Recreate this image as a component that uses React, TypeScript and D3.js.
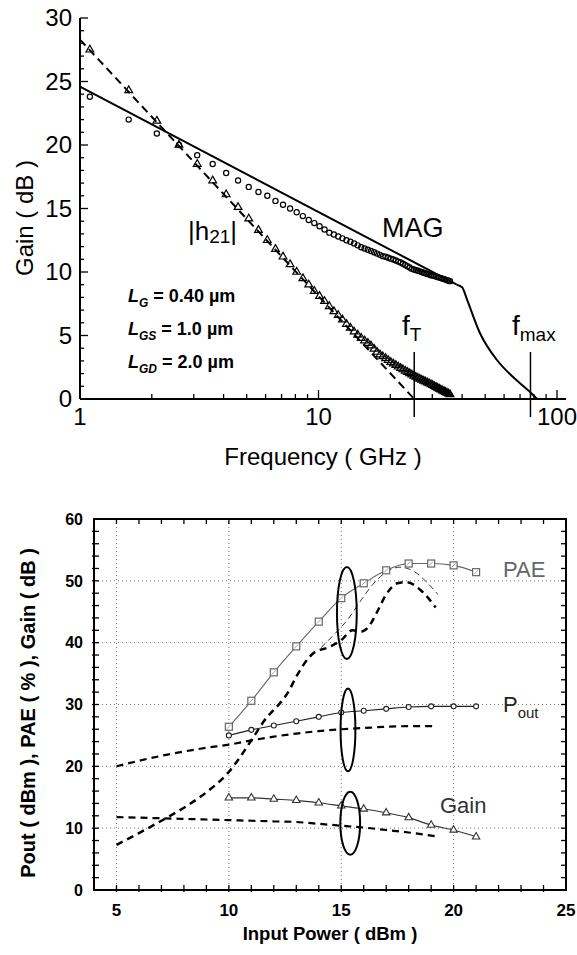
import React from "react";
import * as d3 from "d3";

// ---------- Upper panel: small-signal gain vs frequency ----------
const freqGHz = [
  1.1, 1.6, 2.1, 2.6, 3.1, 3.6, 4.1, 4.6, 5.1, 5.6, 6.1, 6.6, 7.1, 7.6, 8.1, 8.6, 9.1, 9.6,
  10.1, 10.6, 11.1, 11.6, 12.1, 12.6, 13.1, 13.6, 14.1, 14.6, 15.1, 15.6, 16.1, 16.6, 17.1,
  17.6, 18.1, 18.6, 19.1, 19.6, 20.1, 20.6, 21.1, 21.6, 22.1, 22.6, 23.1, 23.6, 24.1, 24.6,
  25.1, 25.6, 26.1, 26.6, 27.1, 27.6, 28.1, 28.6, 29.1, 29.6, 30.1, 30.6, 31.1, 31.6, 32.1,
  32.6, 33.1, 33.6, 34.1, 34.6, 35.1, 35.6,
];
const h21Db = [
  27.5, 24.3, 21.9, 20.0, 18.5, 17.2, 16.1, 15.1, 14.2, 13.3, 12.5, 11.8, 11.2, 10.6, 10.0, 9.5,
  9.0, 8.5, 8.1, 7.7, 7.3, 6.9, 6.6, 6.25, 5.9, 5.6, 5.3, 5.05, 4.8, 4.6, 4.4, 4.2, 3.95, 3.7,
  3.5, 3.35, 3.2, 3.05, 2.9, 2.78, 2.66, 2.54, 2.42, 2.32, 2.22, 2.12, 2.02, 1.92, 1.82, 1.74,
  1.66, 1.58, 1.5, 1.43, 1.36, 1.29, 1.22, 1.15, 1.08, 1.01, 0.94, 0.87, 0.8, 0.73, 0.66, 0.6,
  0.54, 0.48, 0.42, 0.36,
];
const magDb = [
  23.8, 22.0, 20.9, 20.0, 19.2, 18.5, 17.8, 17.2, 16.7, 16.3, 16.0, 15.6, 15.3, 15.0, 14.7, 14.4,
  14.1, 13.85, 13.6, 13.35, 13.1, 12.95, 12.8, 12.65, 12.5, 12.38, 12.25, 12.1, 11.95, 11.85,
  11.75, 11.65, 11.55, 11.45, 11.35, 11.25, 11.2, 11.12, 11.05, 10.98, 10.9, 10.82, 10.75, 10.65,
  10.55, 10.45, 10.35, 10.25, 10.2, 10.15, 10.1, 10.05, 10.0, 9.95, 9.9, 9.85, 9.8, 9.75, 9.72,
  9.68, 9.64, 9.6, 9.56, 9.52, 9.48, 9.44, 9.4, 9.36, 9.32, 9.28,
];
// -20 dB/decade extrapolation of |h21|
const h21FitF = [1, 25.2];
const h21FitDb = [28.3, 0];
// modelled MAG: straight slope, then roll-off to fmax
const magSlopeF = [1, 38];
const magSlopeDb = [24.6, 9.0];
const magRollF = [38, 40, 42, 47.5, 56, 65.4, 77.1, 82.5];
const magRollDb = [9.0, 8.8, 7.8, 5.2, 3.07, 1.73, 0.55, 0];
const fT = 25.2;
const fMax = 77.4;
const gainTicks = [0, 5, 10, 15, 20, 25, 30];
const freqTickLabels = [1, 10, 100];

// ---------- Lower panel: power sweep ----------
const pinMeas = [10, 11, 12, 13, 14, 15, 16, 17, 18, 19, 20, 21];
const paeMeas = [26.4, 30.6, 35.2, 39.4, 43.4, 47.2, 49.6, 51.7, 52.8, 52.8, 52.5, 51.4];
const poutMeas = [25.0, 25.9, 26.6, 27.3, 28.0, 28.7, 29.0, 29.3, 29.6, 29.7, 29.7, 29.7];
const gainMeas = [14.9, 14.9, 14.7, 14.5, 14.1, 13.6, 13.1, 12.5, 11.7, 10.5, 9.7, 8.6];

const pinSim = [5, 6, 7, 8, 9, 10, 11, 12, 13, 14, 15, 16, 17, 18, 19.2];
const poutSim = [20.0, 20.9, 21.7, 22.4, 23.0, 23.5, 24.2, 24.8, 25.3, 25.7, 26.0, 26.2, 26.4, 26.5, 26.5];
const gainSim = [11.8, 11.7, 11.6, 11.5, 11.4, 11.3, 11.2, 11.1, 11.0, 10.7, 10.4, 10.1, 9.7, 9.3, 8.7];
const paeSimPin = [5, 6, 7, 8, 9, 10, 11, 11.5, 12.7, 13.0, 13.8, 14.4, 15.0, 15.5, 15.9, 16.2, 16.6, 17.0, 17.5, 17.9, 18.5, 19.2];
const paeSim = [7.3, 9.2, 11.2, 13.3, 15.8, 19.1, 24.2, 27.0, 32.4, 34.5, 38.4, 39.2, 40.4, 42.0, 41.8, 42.5, 45.0, 47.8, 49.6, 49.8, 48.6, 45.7];
const paeSim2Pin = [14.1, 14.6, 15.3, 15.85, 16.4, 17.0, 17.6, 18.2, 18.8, 19.3];
const paeSim2 = [39.2, 41.0, 43.8, 46.7, 49.4, 51.4, 52.2, 51.6, 49.8, 47.8];
const pinTicks = [5, 10, 15, 20, 25];
const lowerTicks = [0, 10, 20, 30, 40, 50, 60];
// group markers at Pin ~ 15 dBm: [centre Pin, centre value, half-width Pin, half-height value]
const groupEllipses = [
  [15.25, 44.8, 0.44, 7.45],
  [15.3, 25.9, 0.33, 6.7],
  [15.4, 10.8, 0.44, 5.1],
];

const FONT = "'Liberation Sans', Arial, Helvetica, sans-serif";

function UpperPanel() {
  const x = d3.scaleLog().domain([1, 100]).range([80, 557]);
  const y = d3.scaleLinear().domain([0, 30]).range([399, 18]);
  const x0 = 80, y0 = 399;
  const lineXY = (fs: number[], gs: number[], curve = d3.curveLinear) =>
    d3.line<number>().x((_, i) => x(fs[i])).y((_, i) => y(gs[i])).curve(curve)(fs) || "";
  const tri = d3.symbol().type(d3.symbolTriangle).size(26)() || "";
  const minorY = d3.range(0, 31, 1);
  const xTicks = x.ticks();

  return (
    <g fontFamily={FONT}>
      {/* axes */}
      <line x1={x0} y1={18} x2={x0} y2={y0} stroke="#000" strokeWidth={2} />
      <line x1={x0} y1={y0} x2={566} y2={y0} stroke="#000" strokeWidth={2} />
      {minorY.map((v) => (
        <line key={"my" + v} x1={x0} x2={x0 + (v % 5 === 0 ? 8 : 4)} y1={y(v)} y2={y(v)} stroke="#000" strokeWidth={1.3} />
      ))}
      {xTicks.map((v) => {
        const major = Math.abs(Math.log10(v) - Math.round(Math.log10(v))) < 1e-9;
        return <line key={"mx" + v} x1={x(v)} x2={x(v)} y1={y0} y2={y0 - (major ? 9 : 5)} stroke="#000" strokeWidth={1.3} />;
      })}
      {gainTicks.map((v) => (
        <text key={"ly" + v} x={72} y={y(v)} dy="0.35em" textAnchor="end" fontSize={24}>{v}</text>
      ))}
      {freqTickLabels.map((v) => (
        <text key={"lx" + v} x={x(v)} y={425} textAnchor="middle" fontSize={24}>{v}</text>
      ))}
      <text x={323} y={465} textAnchor="middle" fontSize={24}>Frequency ( GHz )</text>
      <text transform="translate(33,218) rotate(-90)" textAnchor="middle" fontSize={24}>Gain ( dB )</text>

      {/* model curves */}
      <path d={lineXY(magSlopeF, magSlopeDb)} fill="none" stroke="#000" strokeWidth={2} />
      <path d={lineXY(magRollF, magRollDb, d3.curveMonotoneX)} fill="none" stroke="#000" strokeWidth={2} />
      <path d={lineXY(h21FitF, h21FitDb)} fill="none" stroke="#000" strokeWidth={2} strokeDasharray="8,5" />

      {/* measured points */}
      {freqGHz.map((f, i) => (
        <circle key={"c" + i} cx={x(f)} cy={y(magDb[i])} r={2.6} fill="none" stroke="#000" strokeWidth={1.2} />
      ))}
      {freqGHz.map((f, i) => (
        <path key={"t" + i} d={tri} transform={`translate(${x(f)},${y(h21Db[i])})`} fill="none" stroke="#000" strokeWidth={1.2} />
      ))}

      {/* fT / fmax markers */}
      <line x1={x(fT)} x2={x(fT)} y1={352} y2={417} stroke="#000" strokeWidth={1.5} />
      <line x1={x(fMax)} x2={x(fMax)} y1={352} y2={417} stroke="#000" strokeWidth={1.5} />
      <text x={402} y={335} fontSize={28}>f<tspan fontSize={19} dy={6}>T</tspan></text>
      <text x={512} y={335} fontSize={28}>f<tspan fontSize={19} dy={6}>max</tspan></text>

      <text x={382} y={237} fontSize={27}>MAG</text>
      <text x={188} y={240} fontSize={26}>|h<tspan fontSize={19} dy={3}>21</tspan><tspan dy={-3}>|</tspan></text>

      <g fontWeight="bold" fontSize={18}>
        <text x={128} y={302}><tspan fontStyle="italic">L</tspan><tspan fontStyle="italic" fontSize={12} dy={5}>G</tspan><tspan dy={-5}> = 0.40 µm</tspan></text>
        <text x={128} y={335}><tspan fontStyle="italic">L</tspan><tspan fontStyle="italic" fontSize={12} dy={5}>GS</tspan><tspan dy={-5}> = 1.0 µm</tspan></text>
        <text x={128} y={368}><tspan fontStyle="italic">L</tspan><tspan fontStyle="italic" fontSize={12} dy={5}>GD</tspan><tspan dy={-5}> = 2.0 µm</tspan></text>
      </g>
    </g>
  );
}

function LowerPanel() {
  const x = d3.scaleLinear().domain([4, 25]).range([94, 566]);
  const y = d3.scaleLinear().domain([0, 60]).range([890, 519]);
  const [L, R] = x.range();
  const [B, T] = y.range();
  const lineXY = (xs: number[], ys: number[]) =>
    d3.line<number>().x((_, i) => x(xs[i])).y((_, i) => y(ys[i])).curve(d3.curveMonotoneX)(xs) || "";
  const tri = d3.symbol().type(d3.symbolTriangle).size(24)() || "";
  const xMinor = d3.range(5, 25, 1);
  const yMinor = d3.range(2, 60, 2);

  return (
    <g fontFamily={FONT}>
      {/* grid */}
      {pinTicks.filter((v) => v < 25).map((v) => (
        <line key={"gx" + v} x1={x(v)} x2={x(v)} y1={T} y2={B} stroke="#777" strokeWidth={1} strokeDasharray="1,3" />
      ))}
      {lowerTicks.filter((v) => v > 0 && v < 60).map((v) => (
        <line key={"gy" + v} x1={L} x2={R} y1={y(v)} y2={y(v)} stroke="#777" strokeWidth={1} strokeDasharray="1,3" />
      ))}

      {/* ticks on all four sides */}
      {xMinor.map((v) => (
        <g key={"tx" + v}>
          <line x1={x(v)} x2={x(v)} y1={B + 2} y2={B - 5} stroke="#000" strokeWidth={1.3} />
          <line x1={x(v)} x2={x(v)} y1={T} y2={T + 5} stroke="#000" strokeWidth={1.3} />
        </g>
      ))}
      {yMinor.map((v) => (
        <g key={"ty" + v}>
          <line x1={L - 2} x2={L + 5} y1={y(v)} y2={y(v)} stroke="#000" strokeWidth={1.3} />
          <line x1={R} x2={R - 5} y1={y(v)} y2={y(v)} stroke="#000" strokeWidth={1.3} />
        </g>
      ))}
      <rect x={L} y={T} width={R - L} height={B - T} fill="none" stroke="#000" strokeWidth={2} />

      {lowerTicks.map((v) => (
        <text key={"ly" + v} x={83} y={y(v)} dy="0.36em" textAnchor="end" fontSize={16} fontWeight="bold">{v}</text>
      ))}
      {pinTicks.map((v) => (
        <text key={"lx" + v} x={x(v)} y={916} textAnchor="middle" fontSize={17} fontWeight="bold">{v}</text>
      ))}
      <text x={330} y={940} textAnchor="middle" fontSize={18.5} fontWeight="bold">Input Power ( dBm )</text>
      <text transform="translate(35,713) rotate(-90)" textAnchor="middle" fontSize={20} fontWeight="bold">
        Pout ( dBm ), PAE ( % ), Gain ( dB )
      </text>

      {/* simulated curves */}
      <path d={lineXY(poutSim.map((_, i) => pinSim[i]), poutSim)} fill="none" stroke="#000" strokeWidth={2.2} strokeDasharray="7,5" />
      <path d={lineXY(pinSim, gainSim)} fill="none" stroke="#000" strokeWidth={2.2} strokeDasharray="7,5" />
      <path d={lineXY(paeSimPin, paeSim)} fill="none" stroke="#000" strokeWidth={2.5} strokeDasharray="7,5" />
      <path d={lineXY(paeSim2Pin, paeSim2)} fill="none" stroke="#333" strokeWidth={1} strokeDasharray="6,4" />

      {/* measured curves */}
      <path d={lineXY(pinMeas, paeMeas)} fill="none" stroke="#666" strokeWidth={1.1} />
      <path d={lineXY(pinMeas, poutMeas)} fill="none" stroke="#222" strokeWidth={1.1} />
      <path d={lineXY(pinMeas, gainMeas)} fill="none" stroke="#333" strokeWidth={1.1} />
      {pinMeas.map((p, i) => (
        <g key={"pm" + i}>
          <rect x={x(p) - 3.5} y={y(paeMeas[i]) - 3.5} width={7} height={7} fill="#fff" stroke="#666" strokeWidth={1.2} />
          <line x1={x(p) - 2} y1={y(paeMeas[i]) + 2} x2={x(p) + 2} y2={y(paeMeas[i]) - 2} stroke="#888" strokeWidth={0.8} />
          <circle cx={x(p)} cy={y(poutMeas[i])} r={2.5} fill="#fff" stroke="#222" strokeWidth={1.1} />
          <path d={tri} transform={`translate(${x(p)},${y(gainMeas[i])})`} fill="#fff" stroke="#333" strokeWidth={1.1} />
        </g>
      ))}

      {groupEllipses.map(([cx, cy, rx, ry], i) => (
        <ellipse key={"e" + i} cx={x(cx)} cy={y(cy)} rx={x(cx + rx) - x(cx)} ry={y(cy - ry) - y(cy)} fill="none" stroke="#000" strokeWidth={2} />
      ))}

      <text x={503} y={577} fontSize={22} fill="#666">PAE</text>
      <text x={503} y={712} fontSize={22} fill="#222">P<tspan fontSize={15} dy={6}>out</tspan></text>
      <text x={440} y={813} fontSize={22} fill="#333">Gain</text>
    </g>
  );
}

export default function App() {
  return (
    <svg
      width={577}
      height={955}
      viewBox="0 0 577 955"
      style={{ position: "absolute", left: 0, top: 0, background: "#fff" }}
    >
      <rect width={577} height={955} fill="#fff" />
      <UpperPanel />
      <LowerPanel />
    </svg>
  );
}
